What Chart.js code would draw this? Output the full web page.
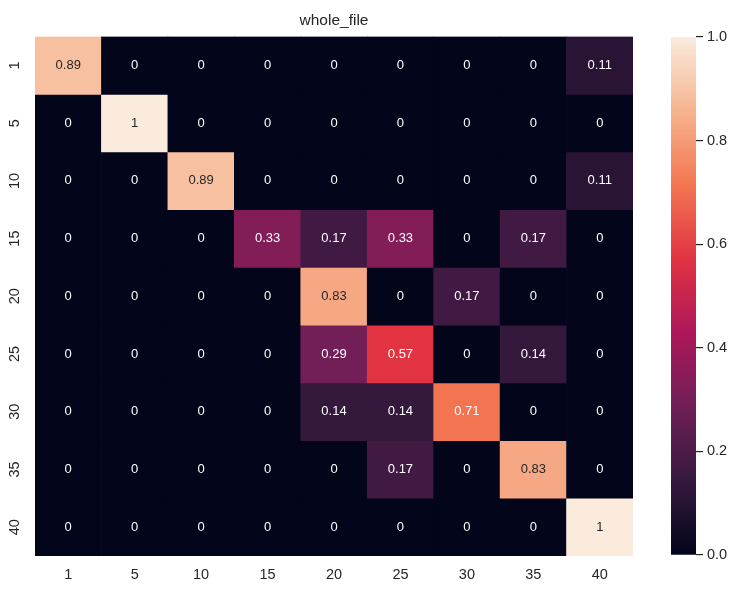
<!DOCTYPE html>
<html>
<head>
<meta charset="utf-8">
<script src="https://cdn.jsdelivr.net/npm/chart.js@4.4.0/dist/chart.umd.min.js"></script>
<style>
  html, body { margin: 0; padding: 0; background: #ffffff; }
  #wrap { position: relative; width: 752px; height: 600px; }
  #main { position: absolute; left: 0; top: 0; }
  #cbar { position: absolute; left: 671px; top: 0; }
</style>
</head>
<body>
<div id="wrap">
  <canvas id="main" width="752" height="600"></canvas>
  <canvas id="cbar" width="81" height="600"></canvas>
</div>
<script>
// ---- data ----
const xLabels = ['1', '5', '10', '15', '20', '25', '30', '35', '40'];
const yLabels = ['1', '5', '10', '15', '20', '25', '30', '35', '40'];
const row1  = [0.89, 0, 0, 0, 0, 0, 0, 0, 0.11];
const row5  = [0, 1, 0, 0, 0, 0, 0, 0, 0];
const row10 = [0, 0, 0.89, 0, 0, 0, 0, 0, 0.11];
const row15 = [0, 0, 0, 0.33, 0.17, 0.33, 0, 0.17, 0];
const row20 = [0, 0, 0, 0, 0.83, 0, 0.17, 0, 0];
const row25 = [0, 0, 0, 0, 0.29, 0.57, 0, 0.14, 0];
const row30 = [0, 0, 0, 0, 0.14, 0.14, 0.71, 0, 0];
const row35 = [0, 0, 0, 0, 0, 0.17, 0, 0.83, 0];
const row40 = [0, 0, 0, 0, 0, 0, 0, 0, 1];
const rows = [row1, row5, row10, row15, row20, row25, row30, row35, row40];
const colorbarTicks = [0, 0.2, 0.4, 0.6, 0.8, 1.0];
const chartTitle = 'whole_file';

// ---- colormap (seaborn "rocket" approximation) ----
const rocketStops = [
  [0.000, [3, 5, 26]],
  [0.143, [53, 25, 62]],
  [0.286, [112, 31, 87]],
  [0.429, [173, 23, 89]],
  [0.571, [225, 51, 66]],
  [0.714, [243, 118, 81]],
  [0.857, [246, 180, 143]],
  [1.000, [250, 235, 221]]
];
function rocketRGB(v) {
  v = Math.max(0, Math.min(1, v));
  for (let i = 1; i < rocketStops.length; i++) {
    const [p1, c1] = rocketStops[i];
    const [p0, c0] = rocketStops[i - 1];
    if (v <= p1) {
      const t = (v - p0) / (p1 - p0);
      return c0.map((c, k) => Math.round(c + (c1[k] - c) * t));
    }
  }
  return rocketStops[rocketStops.length - 1][1];
}
function rocket(v) { const c = rocketRGB(v); return `rgb(${c[0]},${c[1]},${c[2]})`; }
function lum(c) {
  const f = x => { x /= 255; return x <= 0.03928 ? x / 12.92 : Math.pow((x + 0.055) / 1.055, 2.4); };
  return 0.2126 * f(c[0]) + 0.7152 * f(c[1]) + 0.0722 * f(c[2]);
}

const FONT = "'Liberation Sans', Arial, sans-serif";
Chart.defaults.font.family = FONT;
Chart.defaults.color = '#262626';

const cellText = {
  id: 'cellText',
  afterDatasetsDraw(chart) {
    const ctx = chart.ctx;
    ctx.save();
    ctx.font = "13px " + FONT;
    ctx.textAlign = 'center';
    ctx.textBaseline = 'middle';
    rows.forEach((row, i) => {
      const meta = chart.getDatasetMeta(i);
      meta.data.forEach((el, j) => {
        const v = row[j];
        ctx.fillStyle = lum(rocketRGB(v)) > 0.408 ? '#262626' : '#ffffff';
        ctx.fillText(String(v), el.x, (el.y + el.base) / 2);
      });
    });
    // rotated y tick labels positioned through the y scale
    const ys = chart.scales.y;
    ctx.font = "14.5px " + FONT;
    ctx.fillStyle = '#262626';
    yLabels.forEach((lab, i) => {
      ctx.save();
      ctx.translate(15, ys.getPixelForValue(i + 0.5));
      ctx.rotate(-Math.PI / 2);
      ctx.fillText(lab, 0, 0);
      ctx.restore();
    });
    ctx.restore();
  }
};

new Chart(document.getElementById('main'), {
  type: 'bar',
  data: {
    labels: xLabels,
    datasets: rows.map((row, i) => ({
      data: row.map(() => [i, i + 1]),
      backgroundColor: row.map(v => rocket(v)),
      borderWidth: 0,
      grouped: false,
      barPercentage: 1,
      categoryPercentage: 1
    }))
  },
  options: {
    responsive: false,
    animation: false,
    layout: { padding: { left: 35, right: 119, top: 0, bottom: 0 } },
    plugins: {
      legend: { display: false },
      tooltip: { enabled: false },
      title: {
        display: true,
        text: chartTitle,
        color: '#262626',
        font: { size: 15.5, weight: 'normal' },
        padding: { top: 11, bottom: 7 }
      }
    },
    scales: {
      x: {
        grid: { display: false, drawTicks: false },
        border: { display: false },
        ticks: { color: '#262626', font: { size: 14.5 }, padding: 10 },
        afterFit: s => { s.height = 44; }
      },
      y: { min: 0, max: 9, reverse: true, display: false }
    }
  },
  plugins: [cellText]
});

new Chart(document.getElementById('cbar'), {
  type: 'bar',
  data: {
    labels: [''],
    datasets: [{
      data: [[0, 1]],
      borderWidth: 0,
      barPercentage: 1,
      categoryPercentage: 1,
      backgroundColor: (c) => {
        const a = c.chart.chartArea;
        if (!a) return rocket(0.5);
        const g = c.chart.ctx.createLinearGradient(0, a.bottom, 0, a.top);
        rocketStops.forEach(([p, col]) => g.addColorStop(p, `rgb(${col[0]},${col[1]},${col[2]})`));
        return g;
      }
    }]
  },
  options: {
    responsive: false,
    animation: false,
    layout: { padding: { left: 0, right: 0, top: 37, bottom: 45 } },
    plugins: { legend: { display: false }, tooltip: { enabled: false } },
    scales: {
      x: { display: false },
      y: {
        position: 'right',
        min: 0, max: 1,
        afterBuildTicks: s => { s.ticks = colorbarTicks.map(v => ({ value: v })); },
        ticks: { color: '#262626', font: { size: 14.5 }, padding: 4, callback: v => Number(v).toFixed(1) },
        grid: { drawOnChartArea: false, drawTicks: true, tickLength: 7, color: '#262626', lineWidth: 1.2 },
        border: { display: false },
        afterFit: s => { s.width = 56; }
      }
    }
  }
});
</script>
</body>
</html>
